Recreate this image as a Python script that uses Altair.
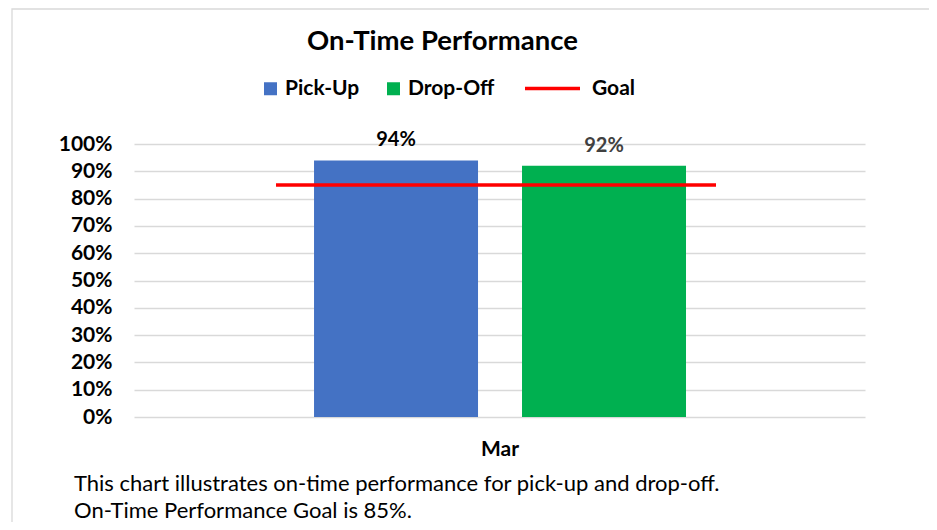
import altair as alt
import pandas as pd

months = ["Mar"]
series = ["Pick-Up", "Drop-Off"]
values = [0.94, 0.92]
label_colors = ["#000000", "#404040"]
series_colors = ["#4472C4", "#00B050"]
goal_name = ["Goal"]
goal_value = [0.85]
y_ticks = [0.0, 0.1, 0.2, 0.3, 0.4, 0.5, 0.6, 0.7, 0.8, 0.9, 1.0]
title_text = "On-Time Performance"
caption_lines = [
    "This chart illustrates on-time performance for pick-up and drop-off.",
    "On-Time Performance Goal is 85%.",
]

FONT = "Lato"

bars_df = pd.DataFrame({
    "month": months * len(series),
    "series": series,
    "value": values,
    "lc": label_colors,
})
goal_df = pd.DataFrame({"month": months, "name": goal_name, "value": goal_value})
cap_df = pd.DataFrame({"k": [0]})

x_scale = alt.Scale(paddingInner=0, paddingOuter=0.3307, align=0.488)
x_axis = alt.Axis(labelAngle=0, labelFont=FONT, labelFontSize=21, labelFontWeight="bold",
                  labelColor="#000000", labelPadding=21, labelOffset=4,
                  ticks=False, domain=False, grid=False)
y_scale = alt.Scale(domain=[0, 1])
y_axis = alt.Axis(format=".0%", values=y_ticks, labelFont=FONT, labelFontSize=21,
                  labelFontWeight="bold", labelColor="#000000", labelPadding=22,
                  labelOverlap=False, ticks=False, domain=False, grid=True,
                  gridColor="#d9d9d9", gridWidth=1.3)

x_enc = alt.X("month:N", title=None, scale=x_scale, axis=x_axis)
y_enc = alt.Y("value:Q", title=None, scale=y_scale, axis=y_axis)
xoff = alt.XOffset("series:N", sort=series,
                   scale=alt.Scale(paddingInner=0.2115, paddingOuter=0.1635, align=0.559))

bars = alt.Chart(bars_df).mark_bar().encode(
    x=x_enc, y=y_enc, xOffset=xoff,
    color=alt.Color("series:N", sort=series,
                    scale=alt.Scale(domain=series, range=series_colors),
                    legend=alt.Legend(orient="none", legendX=126, legendY=-66, direction="horizontal",
                                      title=None, symbolType="square", symbolSize=169,
                                      symbolStrokeWidth=0, labelFont=FONT, labelFontSize=21,
                                      labelFontWeight="bold", labelColor="#000000",
                                      labelOffset=4, columnPadding=23)),
)

labels = alt.Chart(bars_df).mark_text(baseline="alphabetic", dy=-14, font=FONT, fontSize=20,
                                      fontWeight="bold").encode(
    x=x_enc, y=y_enc, xOffset=xoff,
    text=alt.Text("value:Q", format=".0%"),
    color=alt.Color("lc:N", scale=None),
)

goal = alt.Chart(goal_df).mark_rule(strokeWidth=3.5).encode(
    x=alt.X("month:N", bandPosition=0, title=None, scale=x_scale, axis=x_axis),
    x2=alt.X2("month", bandPosition=1),
    y=y_enc,
    stroke=alt.Stroke("name:N", scale=alt.Scale(domain=goal_name, range=["#FF0000"]),
                      legend=alt.Legend(orient="none", legendX=389, legendY=-85, title=None,
                                        symbolType="stroke", symbolSize=3025, symbolStrokeWidth=3.5,
                                        labelFont=FONT, labelFontSize=21, labelFontWeight="bold",
                                        labelColor="#000000", labelOffset=10)),
)

caption = alt.Chart(cap_df).mark_text(align="left", baseline="alphabetic", font=FONT, fontSize=22,
                                      color="#000000", lineHeight=26.5).encode(
    x=alt.value(-60), y=alt.value(347), text=alt.value(caption_lines),
)

frame = alt.Chart(cap_df).mark_rect(fill=None, stroke="#d9d9d9", strokeWidth=1.3).encode(
    x=alt.value(-122), x2=alt.value(798), y=alt.value(-135), y2=alt.value(420),
)

chart = alt.layer(frame, bars, goal, labels, caption).properties(
    width=731, height=273,
    padding={"left": 126, "top": 136, "right": 64, "bottom": 105},
    autosize=alt.AutoSizeParams(type="none"),
    title=alt.TitleParams(title_text, font=FONT, fontSize=27.5, fontWeight="bold", color="#000000",
                          anchor="middle", dx=-57, offset=4, dy=51),
).configure(background="white", view=alt.ViewConfig(stroke=None))

chart.save("out.html", embed_options={"renderer": "svg", "actions": False})
